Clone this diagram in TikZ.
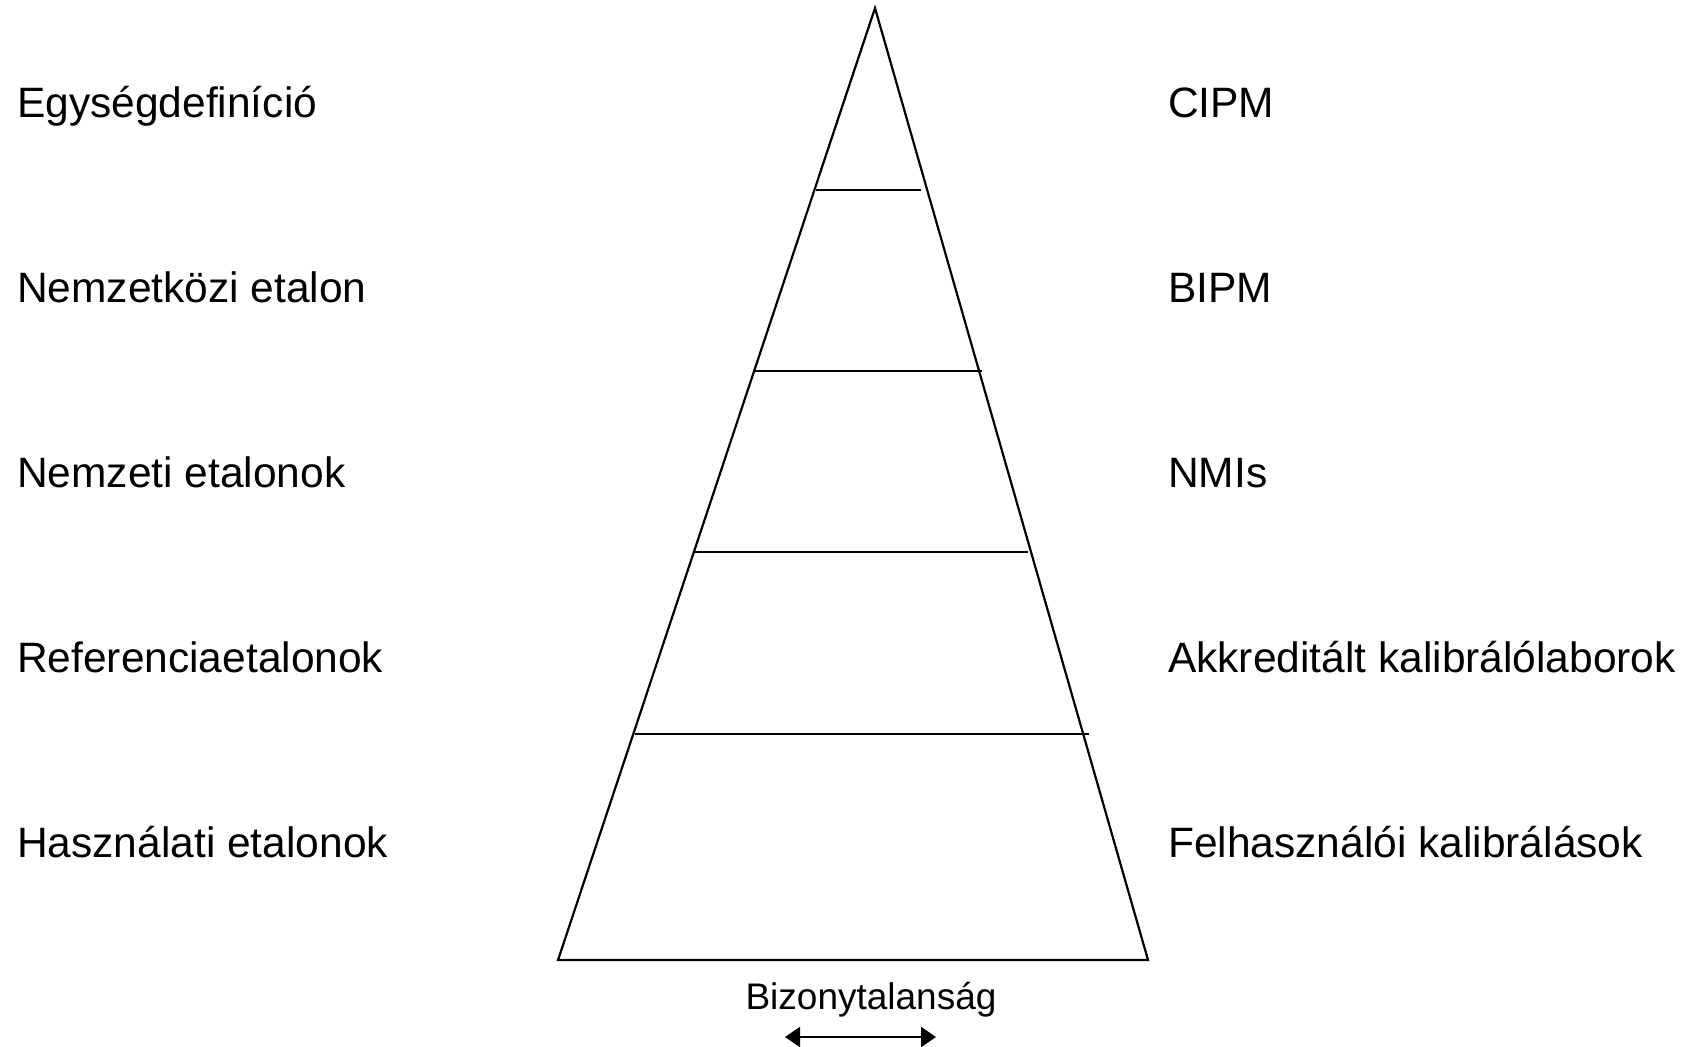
\documentclass[tikz,border=0pt]{standalone}
\usepackage{fontspec}
\setmainfont{Liberation Sans}
\usetikzlibrary{arrows.meta}
\begin{document}
\begin{tikzpicture}[x=0.5pt,y=-0.5pt,line width=1.1pt,
  lbl/.style={font=\fontsize{21.25}{25}\selectfont,inner sep=0pt,anchor=base west},
  small/.style={font=\fontsize{18.5}{22}\selectfont,inner sep=0pt,anchor=base},
  bothtips/.style={arrows={Triangle[length=7.5pt,width=10pt]-Triangle[length=7.5pt,width=10pt]}}]
\useasboundingbox (0,0) rectangle (1690,1046);
% pyramid
\coordinate (apex) at (875,8);
\coordinate (bl) at (558,960);
\coordinate (br) at (1148,960);
\draw[line join=miter] (apex) -- (bl) -- (br) -- cycle;
% level lines
\coordinate (l1a) at (816,190);  \coordinate (l1b) at (921,190);
\coordinate (l2a) at (755,371);  \coordinate (l2b) at (982,371);
\coordinate (l3a) at (695,552);  \coordinate (l3b) at (1028,552);
\coordinate (l4a) at (635,734);  \coordinate (l4b) at (1089,734);
\draw (l1a) -- (l1b);
\draw (l2a) -- (l2b);
\draw (l3a) -- (l3b);
\draw (l4a) -- (l4b);
% left labels
\node[lbl] (t1) at (16,117) {Egységdefiníció};
\node[lbl] (t2) at (16,302) {Nemzetközi etalon};
\node[lbl] (t3) at (16,487) {Nemzeti etalonok};
\node[lbl] (t4) at (16,672) {Referenciaetalonok};
\node[lbl] (t5) at (16,857) {Használati etalonok};
% right labels
\node[lbl] (r1) at (1167,117) {CIPM};
\node[lbl] (r2) at (1167,302) {BIPM};
\node[lbl] (r3) at (1167,487) {NMIs};
\node[lbl] (r4) at (1167,672) {Akkreditált kalibrálólaborok};
\node[lbl] (r5) at (1167,857) {Felhasználói kalibrálások};
% uncertainty
\node[small] (unc) at (871,1009) {Bizonytalanság};
\coordinate (arL) at (785,1037);
\coordinate (arR) at (936,1037);
\draw[bothtips] (arL) -- (arR);
\end{tikzpicture}
\end{document}
